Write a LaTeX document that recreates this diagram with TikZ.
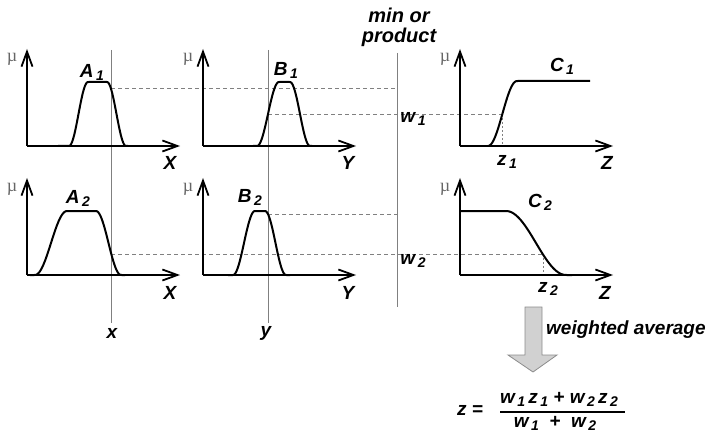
\documentclass[tikz,border=0pt]{standalone}
\usepackage{fontspec}
\setmainfont{Liberation Sans}
\newfontfamily\mufont{Liberation Serif}
\usepackage{tikz}
\usetikzlibrary{arrows.meta,positioning,calc}
\newcommand{\ix}[2]{#1\hspace{2.5pt}\raisebox{-3pt}{\fontsize{14}{14}\selectfont #2}}

\tikzset{
  declare function={sstep(\u)=(1-cos(180*min(1,max(0,\u))))/2;},
  axisarrow/.style={line width=2.4pt,-{Straight Barb[length=15pt,width=11pt,line width=1.8pt]}},
  mf/.style={line width=2pt,line join=round},
  guideline/.style={gray,line width=0.9pt},
  cutline/.style={gray,line width=0.8pt,dash pattern=on 4pt off 3pt},
  dropline/.style={gray,line width=0.8pt,dash pattern=on 2pt off 2pt},
  lab/.style={font=\bfseries\itshape\fontsize{19}{21}\selectfont,inner sep=0pt},
  mulab/.style={font=\mufont\fontsize{18}{18}\selectfont,text=black!60,inner sep=0pt}
}

\begin{document}
\begin{tikzpicture}[x=1pt,y=-1pt]
  \useasboundingbox (0,0) rectangle (707,433);
  % input lines x, y and the min/product line
  \draw[guideline] (111,50) -- (111,323);
  \draw[guideline] (268,50) -- (268,323);
  \draw[guideline] (397,53) -- (397,307);
  \node[lab] (xin) at (112,333) {x};
  \node[lab] (yin) at (266,333) {y};
  \node[lab,align=center,font=\bfseries\itshape\fontsize{20}{20}\selectfont]
    (minop) at (399,27) {min or\\product};
  % firing levels
  \draw[cutline] (111,88.7) -- (397,88.7);
  \draw[cutline] (268,114) -- (502.4,114);
  \draw[cutline] (268,214) -- (397,214);
  \draw[cutline] (111,254) -- (543,254);
  \draw[dropline] (502.4,114) -- (502.4,146);
  \draw[dropline] (543,254) -- (543,275);
  \node[lab] (w1) at (413,119) {\ix{w}{1}};
  \node[lab] (w2) at (413,261) {\ix{w}{2}};
  % rule 1
  \foreach \ax/\nm in {27/X,203/Y,460/Z}{
    \draw[axisarrow] (\ax,146) -- (\ax+153,146);
    \draw[axisarrow] (\ax,146) -- (\ax,49);
    \node[mulab] at (\ax-15,59) {µ};
    \draw[axisarrow] (\ax,275) -- (\ax+153,275);
    \draw[axisarrow] (\ax,275) -- (\ax,178);
    \node[mulab] at (\ax-15,189) {µ};
  }
  \draw[mf] plot[domain=58:128,samples=90]
    (\x,{146-64*sstep((\x-69)/19)*(1-sstep((\x-107)/19))});
  \draw[mf] plot[domain=253:312,samples=90]
    (\x,{146-64*sstep((\x-257)/22)*(1-sstep((\x-290)/20))});
  \draw[mf] plot[domain=488:590,samples=90]
    (\x,{146-65*sstep((\x-488)/29)});
  \node[lab] (a1) at (92,72) {\ix{A}{1}};
  \node[lab] (b1) at (286,70) {\ix{B}{1}};
  \node[lab] (c1) at (562,66) {\ix{C}{1}};
  \node[lab] (x1) at (170,163) {X};
  \node[lab] (y1) at (348,163) {Y};
  \node[lab] (z1ax) at (607,163) {Z};
  \node[lab] (z1) at (507,162) {\ix{z}{1}};
  % rule 2
  \draw[mf] plot[domain=30:125,samples=90]
    (\x,{275-64*sstep((\x-35)/32)*(1-sstep((\x-96)/25))});
  \draw[mf] plot[domain=228:290,samples=90]
    (\x,{275-64*sstep((\x-233)/22)*(1-sstep((\x-265)/21))});
  \draw[mf] plot[domain=460:572,samples=90]
    (\x,{275-64*(1-sstep((\x-506)/60))});
  \node[lab] (a2) at (78,198) {\ix{A}{2}};
  \node[lab] (b2) at (250,197) {\ix{B}{2}};
  \node[lab] (c2) at (540,202) {\ix{C}{2}};
  \node[lab] (x2) at (170,293) {X};
  \node[lab] (y2) at (348,293) {Y};
  \node[lab] (z2ax) at (605,293) {Z};
  \node[lab] (z2) at (548,289) {\ix{z}{2}};
  % weighted average
  \draw[fill=black!18,draw=black!45,line width=0.8pt]
    (525,307) -- (542,307) -- (542,355) -- (557,355) -- (533,372)
    -- (508,355) -- (525,355) -- cycle;
  \node[lab,anchor=west] (wavg) at (546,330) {weighted average};
  \node[lab] (zeq) at (470,410) {z =};
  \node[lab] (num) at (559,399) {\ix{w}{1}\,\ix{z}{1} + \ix{w}{2}\,\ix{z}{2}};
  \node[lab] (den) at (555,423) {\ix{w}{1} \ + \ \ix{w}{2}};
  \draw[line width=1.3pt] (500,412) -- (625,412);
\end{tikzpicture}
\end{document}
